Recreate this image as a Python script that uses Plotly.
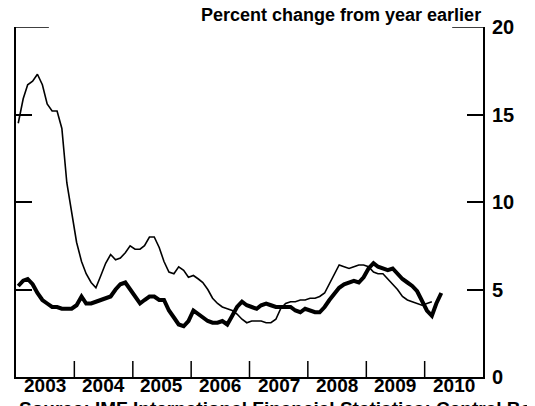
import pandas as pd
import plotly.graph_objects as go

# Monthly series, Jan 2003 onward
start_month = "2003-01-01"
thin_values = [14.5, 15.9, 16.7, 16.9, 17.3, 16.7, 15.6, 15.2, 15.2, 14.2,
               11.1, 9.3, 7.7, 6.6, 5.9, 5.4, 5.1, 5.8, 6.5, 7.0,
               6.7, 6.8, 7.1, 7.5, 7.3, 7.3, 7.5, 8.0, 8.0, 7.4,
               6.6, 6.0, 5.9, 6.3, 6.1, 5.7, 5.8, 5.6, 5.4, 5.0,
               4.5, 4.2, 4.0, 3.9, 3.8, 3.6, 3.3, 3.1, 3.2, 3.2,
               3.2, 3.1, 3.1, 3.3, 3.9, 4.2, 4.3, 4.3, 4.4, 4.4,
               4.5, 4.5, 4.6, 4.8, 5.3, 5.9, 6.4, 6.3, 6.2, 6.3,
               6.4, 6.4, 6.3, 6.0, 5.9, 5.9, 5.6, 5.3, 5.0, 4.6,
               4.4, 4.3, 4.2, 4.1, 4.2, 4.3]
thick_values = [5.2, 5.5, 5.6, 5.3, 4.8, 4.4, 4.2, 4.0, 4.0, 3.9,
                3.9, 3.9, 4.1, 4.6, 4.2, 4.2, 4.3, 4.4, 4.5, 4.6,
                5.0, 5.3, 5.4, 5.0, 4.6, 4.2, 4.4, 4.6, 4.6, 4.4,
                4.4, 3.8, 3.4, 3.0, 2.9, 3.2, 3.8, 3.6, 3.4, 3.2,
                3.1, 3.1, 3.2, 3.0, 3.5, 4.0, 4.3, 4.1, 4.0, 3.9,
                4.1, 4.2, 4.1, 4.0, 4.0, 4.0, 4.0, 3.8, 3.7, 3.9,
                3.8, 3.7, 3.7, 4.0, 4.4, 4.8, 5.1, 5.3, 5.4, 5.5,
                5.4, 5.7, 6.2, 6.5, 6.3, 6.2, 6.1, 6.2, 5.9, 5.6,
                5.4, 5.2, 4.9, 4.4, 3.8, 3.5, 4.2, 4.8]
year_labels = ["2003", "2004", "2005", "2006", "2007", "2008", "2009", "2010"]
y_ticks = [0, 5, 10, 15, 20]

def month_dates(n):
    return pd.date_range(start_month, periods=n, freq="MS") + pd.Timedelta(days=14)

thin_x = month_dates(len(thin_values))
thick_x = month_dates(len(thick_values))

label_pos = [f"{y}-07-02" for y in year_labels]
year_bounds = [f"{int(y)+1}-01-01" for y in year_labels[:-1]]

FONT = "Liberation Sans"
PLOT_H = 350  # plot area height in px

fig = go.Figure()
fig.add_trace(go.Scatter(x=thin_x, y=thin_values, mode="lines",
                         line=dict(color="black", width=1.6), showlegend=False))
fig.add_trace(go.Scatter(x=thick_x, y=thick_values, mode="lines",
                         line=dict(color="black", width=4), showlegend=False))

shapes = [
    dict(type="line", xref="paper", yref="y", x0=0, x1=0.0704, y0=20, y1=20,
         line=dict(color="black", width=1.5)),
    dict(type="line", xref="paper", yref="y", x0=0.934, x1=1, y0=20, y1=20,
         line=dict(color="black", width=1.5)),
]
for b in year_bounds:
    shapes.append(dict(type="line", xref="x", yref="paper", x0=b, x1=b,
                       y0=0, y1=16 / PLOT_H, line=dict(color="black", width=1.5)))

annotations = [
    dict(text="Percent change from year earlier", xref="paper", yref="paper",
         x=1, y=1 + 12 / PLOT_H, xanchor="right", yanchor="middle", showarrow=False,
         font=dict(family=FONT, size=18, weight="bold")),
    dict(text="Source: IMF International Financial Statistics; Central Bank; Haver Analytics",
         xref="paper", yref="paper", x=0.002, y=-19 / PLOT_H, xanchor="left", yanchor="top",
         showarrow=False, font=dict(family=FONT, size=19, weight="bold")),
]
for pos, lab in zip(label_pos, year_labels):
    annotations.append(dict(text=lab, xref="x", yref="paper", x=pos, y=-8 / PLOT_H,
                            xanchor="center", yanchor="middle", showarrow=False,
                            font=dict(family=FONT, size=19, weight="bold")))

fig.update_layout(
    width=535, height=406,
    margin=dict(l=6, r=60, t=19, b=37),
    paper_bgcolor="white", plot_bgcolor="white",
    font=dict(family=FONT, size=18, color="black"),
    xaxis=dict(
        type="date", range=["2003-01-01", "2011-01-01"],
        showgrid=False, zeroline=False,
        showline=True, linewidth=2, linecolor="black",
        showticklabels=False, ticks="",
    ),
    yaxis=dict(
        side="right", range=[0, 20],
        showgrid=False, zeroline=False,
        showline=True, linewidth=2, linecolor="black", mirror="ticks",
        tickmode="array", tickvals=y_ticks,
        ticks="inside", ticklen=16, tickwidth=1.5, tickcolor="black",
        tickfont=dict(family=FONT, size=20, weight="bold"),
        ticklabelstandoff=3,
    ),
    shapes=shapes,
    annotations=annotations,
)

fig.write_html("out.html")
